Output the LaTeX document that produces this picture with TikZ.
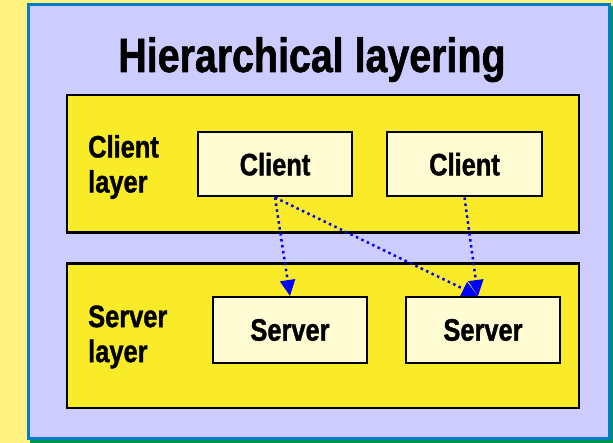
\documentclass[tikz,border=0pt]{standalone}
\usepackage{fontspec}
\newfontfamily\narrowsans[FakeStretch=0.82,BoldFeatures={FakeBold=1.2}]{Liberation Sans}
\usepackage{tikz}
\usetikzlibrary{arrows.meta}

\definecolor{pageyellow}{RGB}{255,242,128}
\definecolor{panelfill}{RGB}{204,204,255}
\definecolor{panelline}{RGB}{0,125,200}
\definecolor{panelshadow}{RGB}{0,150,80}
\definecolor{layerfill}{RGB}{250,235,40}
\definecolor{boxfill}{RGB}{255,252,212}
\definecolor{linkblue}{RGB}{0,0,255}

\begin{document}
\begin{tikzpicture}[
  x=1pt, y=-1pt,
  panel/.style={draw=panelline,fill=panelfill,line width=3pt,inner sep=0pt},
  lnode/.style={draw=black,fill=layerfill,line width=2.5pt,inner sep=0pt},
  bnode/.style={draw=black,fill=boxfill,line width=2pt,inner sep=0pt,
    font=\narrowsans\bfseries\fontsize{31}{35}\selectfont},
  lbl/.style={align=left,inner sep=0pt,font=\narrowsans\bfseries\fontsize{31}{35}\selectfont},
  link/.style={draw=linkblue,line width=2.5pt,dash pattern=on 2.5pt off 3.5pt,
    -{Triangle[length=16pt,width=15pt]}}
]
  \fill[pageyellow] (0,0) rectangle (613,443);
  \useasboundingbox (0,0) rectangle (613,443);

  % frame
  \fill[panelshadow] (30,6) rectangle (614,443);
  \node[panel,minimum width=581pt,minimum height=434pt] (frame) at (319,221.5) {};
  \node[inner sep=0pt,anchor=base,font=\narrowsans\bfseries\fontsize{48}{48}\selectfont]
    (title) at (312,72) {Hierarchical layering};

  % layers
  \node[lnode,minimum width=512pt,minimum height=137.5pt] (cl) at (323,163.75) {};
  \node[lnode,minimum width=512pt,minimum height=144.5pt] (sl) at (323,335.75) {};
  \node[lbl,anchor=west] (cltext) at (88,167) {Client\\layer};
  \node[lbl,anchor=west] (sltext) at (88,337) {Server\\layer};

  % clients
  \node[bnode,minimum width=154pt,minimum height=64.5pt] (c1) at (275,164.25) {Client};
  \node[bnode,minimum width=155pt,minimum height=64.5pt] (c2) at (464.5,164.25) {Client};

  % servers
  \node[bnode,minimum width=154pt,minimum height=66pt] (s1) at (290,330) {Server};
  \node[bnode,minimum width=154pt,minimum height=66pt] (s2) at (483,330) {Server};

  % calls
  \draw (c1.south) edge[link] (s1.north);
  \draw (c1.south) edge[link] ([xshift=-5pt]s2.north);
  \draw (c2.south) edge[link] ([xshift=-5pt]s2.north);
\end{tikzpicture}
\end{document}
